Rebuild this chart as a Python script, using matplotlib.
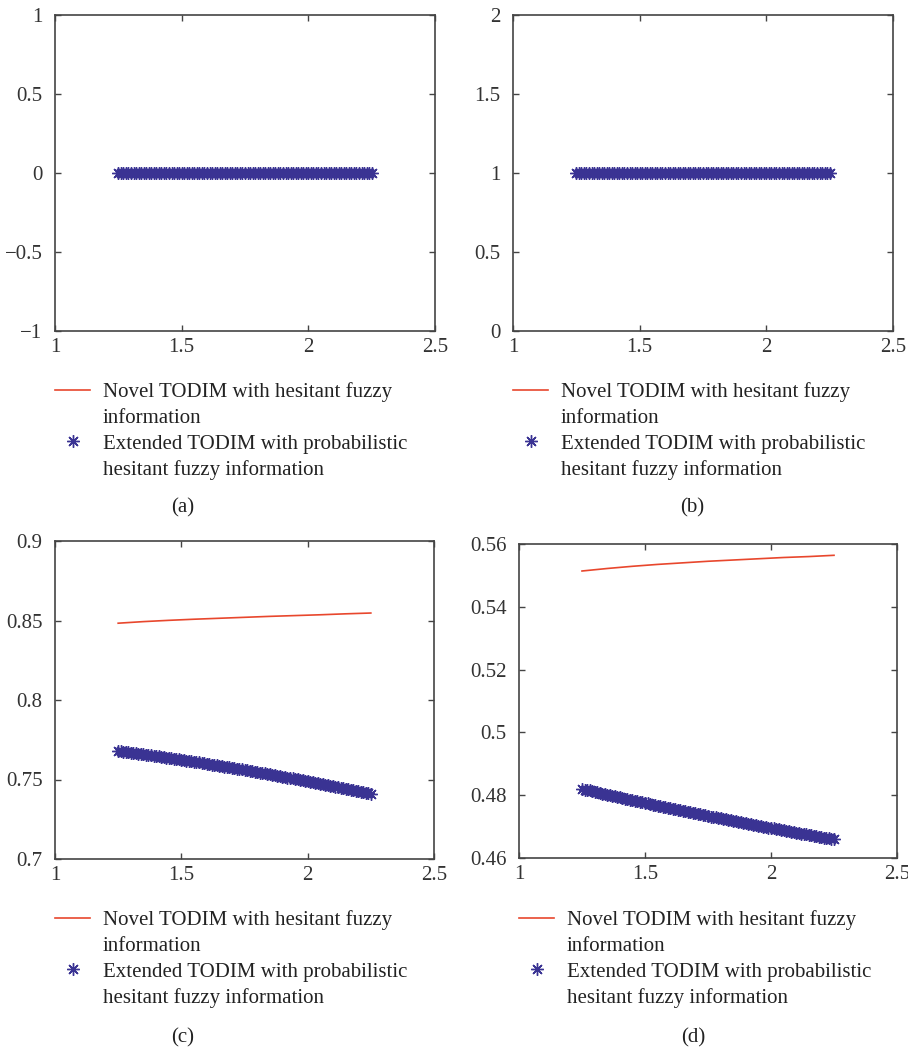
import matplotlib.pyplot as plt
from matplotlib.lines import Line2D

plt.rcParams['font.family'] = ['Liberation Serif', 'DejaVu Serif']
plt.rcParams['font.size'] = 15

RED = '#e8472d'
BLUE = '#3a3393'
AXC = '#444444'

# legend text, wrapped as in the figure
novel_lines = ['Novel TODIM with hesitant fuzzy', 'information']
ext_lines = ['Extended TODIM with probabilistic', 'hesitant fuzzy information']

# x positions (parameter values)
x_line = [1.25, 1.35, 1.45, 1.55, 1.65, 1.75, 1.85, 1.95, 2.05, 2.15, 2.25]
x_pts = [1.25, 1.26, 1.27, 1.28, 1.29, 1.30, 1.31, 1.32, 1.33, 1.34,
         1.35, 1.36, 1.37, 1.38, 1.39, 1.40, 1.41, 1.42, 1.43, 1.44,
         1.45, 1.46, 1.47, 1.48, 1.49, 1.50, 1.51, 1.52, 1.53, 1.54,
         1.55, 1.56, 1.57, 1.58, 1.59, 1.60, 1.61, 1.62, 1.63, 1.64,
         1.65, 1.66, 1.67, 1.68, 1.69, 1.70, 1.71, 1.72, 1.73, 1.74,
         1.75, 1.76, 1.77, 1.78, 1.79, 1.80, 1.81, 1.82, 1.83, 1.84,
         1.85, 1.86, 1.87, 1.88, 1.89, 1.90, 1.91, 1.92, 1.93, 1.94,
         1.95, 1.96, 1.97, 1.98, 1.99, 2.00, 2.01, 2.02, 2.03, 2.04,
         2.05, 2.06, 2.07, 2.08, 2.09, 2.10, 2.11, 2.12, 2.13, 2.14,
         2.15, 2.16, 2.17, 2.18, 2.19, 2.20, 2.21, 2.22, 2.23, 2.24, 2.25]

# (a) both methods give 0
a_novel = [0.0] * 11
a_ext = [0.0] * 101

# (b) both methods give 1
b_novel = [1.0] * 11
b_ext = [1.0] * 101

# (c)
c_novel = [0.8483, 0.8493, 0.8501, 0.8508, 0.8514, 0.8520, 0.8526, 0.8531, 0.8536, 0.8542, 0.8547]
c_ext = [0.7680, 0.7678, 0.7676, 0.7674, 0.7672, 0.7669, 0.7667, 0.7665, 0.7663, 0.7661,
         0.7658, 0.7656, 0.7654, 0.7652, 0.7649, 0.7647, 0.7645, 0.7643, 0.7640, 0.7638,
         0.7636, 0.7633, 0.7631, 0.7629, 0.7626, 0.7624, 0.7621, 0.7619, 0.7617, 0.7614,
         0.7612, 0.7609, 0.7607, 0.7604, 0.7602, 0.7599, 0.7597, 0.7594, 0.7592, 0.7589,
         0.7586, 0.7584, 0.7581, 0.7579, 0.7576, 0.7573, 0.7571, 0.7568, 0.7565, 0.7563,
         0.7560, 0.7557, 0.7555, 0.7552, 0.7549, 0.7546, 0.7544, 0.7541, 0.7538, 0.7535,
         0.7532, 0.7530, 0.7527, 0.7524, 0.7521, 0.7518, 0.7515, 0.7512, 0.7509, 0.7507,
         0.7504, 0.7501, 0.7498, 0.7495, 0.7492, 0.7489, 0.7486, 0.7483, 0.7480, 0.7477,
         0.7474, 0.7471, 0.7467, 0.7464, 0.7461, 0.7458, 0.7455, 0.7452, 0.7449, 0.7446,
         0.7442, 0.7439, 0.7436, 0.7433, 0.7430, 0.7426, 0.7423, 0.7420, 0.7417, 0.7413, 0.7410]

# (d)
d_novel = [0.5514, 0.5522, 0.5529, 0.5535, 0.5540, 0.5545, 0.5549, 0.5553, 0.5557, 0.5560, 0.5564]
d_ext = [0.4820, 0.4818, 0.4816, 0.4815, 0.4813, 0.4811, 0.4809, 0.4807, 0.4805, 0.4804,
         0.4802, 0.4800, 0.4798, 0.4796, 0.4795, 0.4793, 0.4791, 0.4789, 0.4788, 0.4786,
         0.4784, 0.4782, 0.4781, 0.4779, 0.4777, 0.4775, 0.4774, 0.4772, 0.4770, 0.4769,
         0.4767, 0.4765, 0.4764, 0.4762, 0.4760, 0.4759, 0.4757, 0.4755, 0.4754, 0.4752,
         0.4750, 0.4749, 0.4747, 0.4745, 0.4744, 0.4742, 0.4740, 0.4739, 0.4737, 0.4736,
         0.4734, 0.4732, 0.4731, 0.4729, 0.4728, 0.4726, 0.4724, 0.4723, 0.4721, 0.4720,
         0.4718, 0.4717, 0.4715, 0.4714, 0.4712, 0.4711, 0.4709, 0.4707, 0.4706, 0.4704,
         0.4703, 0.4701, 0.4700, 0.4698, 0.4697, 0.4695, 0.4694, 0.4693, 0.4691, 0.4690,
         0.4688, 0.4687, 0.4685, 0.4684, 0.4682, 0.4681, 0.4680, 0.4678, 0.4677, 0.4675,
         0.4674, 0.4672, 0.4671, 0.4670, 0.4668, 0.4667, 0.4665, 0.4664, 0.4663, 0.4661, 0.4660]

xticks = [1, 1.5, 2, 2.5]
xticklabels = ['1', '1.5', '2', '2.5']

a_yticks = [-1, -0.5, 0, 0.5, 1]
a_yticklabels = ['\u22121', '\u22120.5', '0', '0.5', '1']
b_yticks = [0, 0.5, 1, 1.5, 2]
b_yticklabels = ['0', '0.5', '1', '1.5', '2']
c_yticks = [0.7, 0.75, 0.8, 0.85, 0.9]
c_yticklabels = ['0.7', '0.75', '0.8', '0.85', '0.9']
d_yticks = [0.46, 0.48, 0.5, 0.52, 0.54, 0.56]
d_yticklabels = ['0.46', '0.48', '0.5', '0.52', '0.54', '0.56']

W, H = 908, 1051
fig = plt.figure(figsize=(W / 100, H / 100), dpi=100)


def px_rect(l, t, r, b):
    return [l / W, 1 - b / H, (r - l) / W, (b - t) / H]


def panel(rect, novel, ext, yticks, yticklabels, leg_xy, tag, tag_xy):
    ax = fig.add_axes(px_rect(*rect))
    l_novel, = ax.plot(x_line, novel, color=RED, lw=1.2, zorder=2)
    l_ext, = ax.plot(x_pts, ext, ls='none', marker=(8, 2, 0), ms=9, mew=1.0,
                     color=BLUE, zorder=3)
    ax.set_xlim(1, 2.5)
    ax.set_ylim(yticks[0], yticks[-1])
    ax.set_xticks(xticks)
    ax.set_xticklabels(xticklabels)
    ax.set_yticks(yticks)
    ax.set_yticklabels(yticklabels)
    ax.tick_params(direction='in', top=True, right=True, length=4, width=1,
                   color=AXC, labelcolor='#333333')
    ax.tick_params(axis='x', pad=5)
    ax.tick_params(axis='y', pad=9)
    for s in ax.spines.values():
        s.set_color(AXC)
        s.set_linewidth(1.2)

    # second line of each label gets an empty handle so the marks sit on line one
    blank = Line2D([], [], ls='none')
    handles = [l_novel, blank, l_ext, blank]
    labels = [novel_lines[0], novel_lines[1], ext_lines[0], ext_lines[1]]
    ax.legend(handles, labels, loc='upper left',
              bbox_to_anchor=(leg_xy[0] / W, 1 - leg_xy[1] / H),
              bbox_transform=fig.transFigure, frameon=False, borderpad=0,
              borderaxespad=0, handlelength=1.7, handletextpad=0.6,
              labelspacing=0.3, numpoints=1, labelcolor='#222222')
    fig.text(tag_xy[0] / W, 1 - tag_xy[1] / H, tag, ha='center', va='center',
             color='#222222')
    return ax


panel((55, 15, 435, 331), a_novel, a_ext, a_yticks, a_yticklabels,
      (55, 382), '(a)', (183, 508))
panel((513, 15, 893, 331), b_novel, b_ext, b_yticks, b_yticklabels,
      (513, 382), '(b)', (692, 508))
panel((55, 541, 434, 859), c_novel, c_ext, c_yticks, c_yticklabels,
      (55, 910), '(c)', (183, 1038))
panel((519, 544, 897, 858), d_novel, d_ext, d_yticks, d_yticklabels,
      (519, 910), '(d)', (693, 1038))

fig.savefig('out.png', dpi=100)
